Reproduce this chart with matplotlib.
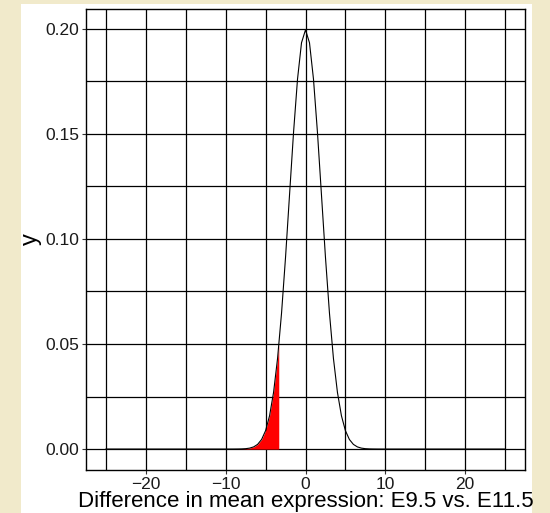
import numpy as np
import matplotlib.pyplot as plt
from matplotlib.patches import Rectangle

# density curve (x, y)
curve_x = [-25, -10, -9.5, -9, -8.5, -8, -7.5, -7, -6.5, -6, -5.5, -5, -4.5, -4, -3.5,
           -3, -2.5, -2, -1.5, -1, -0.5, 0, 0.5, 1, 1.5, 2, 2.5, 3, 3.5, 4, 4.5,
           5, 5.5, 6, 6.5, 7, 7.5, 8, 8.5, 9, 9.5, 10, 25]
curve_y = [0.0, 0.0, 0.0, 0.00001, 0.00003, 0.00007, 0.00018, 0.00044, 0.00102, 0.00222,
           0.00455, 0.00876, 0.01587, 0.02700, 0.04314, 0.06476, 0.09132, 0.12099,
           0.15057, 0.17603, 0.19333, 0.19947, 0.19333, 0.17603, 0.15057, 0.12099,
           0.09132, 0.06476, 0.04314, 0.02700, 0.01587, 0.00876, 0.00455, 0.00222,
           0.00102, 0.00044, 0.00018, 0.00007, 0.00003, 0.00001, 0.0, 0.0, 0.0]
cutoff = -3.35

x_ticks = [-20, -10, 0, 10, 20]
y_ticks = [0.00, 0.05, 0.10, 0.15, 0.20]

bg = '#f1eacb'
plt.rcParams['font.family'] = ['Liberation Sans', 'DejaVu Sans']

fig = plt.figure(figsize=(5.5, 5.13), dpi=100, facecolor=bg)
# white panel behind the plot
fig.patches.append(Rectangle((21 / 550, 0), 511 / 550, 509 / 513,
                             transform=fig.transFigure, facecolor='white',
                             edgecolor='none', zorder=-5))
ax = fig.add_axes([86 / 550, 43 / 513, 439 / 550, 461 / 513])

cx = np.array(curve_x, dtype=float)
cy = np.array(curve_y, dtype=float)
mask = cx < cutoff
sx = np.append(cx[mask], cutoff)
sy = np.append(cy[mask], np.interp(cutoff, cx, cy))
ax.fill_between(sx, 0, sy, color='red', linewidth=0, zorder=3)
ax.plot(cx, cy, color='black', linewidth=0.8, zorder=4)

ax.set_xlim(-27.5, 27.5)
ax.set_ylim(-0.00997, 0.2094)
ax.set_xticks(x_ticks)
ax.set_yticks(y_ticks)
ax.set_yticklabels(['%.2f' % v for v in y_ticks])
ax.set_xticks([-25, -15, -5, 5, 15, 25], minor=True)
ax.set_yticks([0.025, 0.075, 0.125, 0.175], minor=True)
ax.grid(True, which='both', color='black', linewidth=0.9)
ax.set_axisbelow(True)
ax.tick_params(which='major', length=3, width=0.8, color='#333333',
               labelsize=12.5, pad=2, labelcolor='#1a1a1a')
ax.tick_params(which='minor', length=0)
for s in ax.spines.values():
    s.set_linewidth(1.0)
    s.set_color('black')

ax.set_xlabel('Difference in mean expression: E9.5 vs. E11.5', fontsize=16, labelpad=-1)
ax.set_ylabel('y', fontsize=17, labelpad=2)

fig.savefig('out.png', dpi=100, facecolor=bg)
